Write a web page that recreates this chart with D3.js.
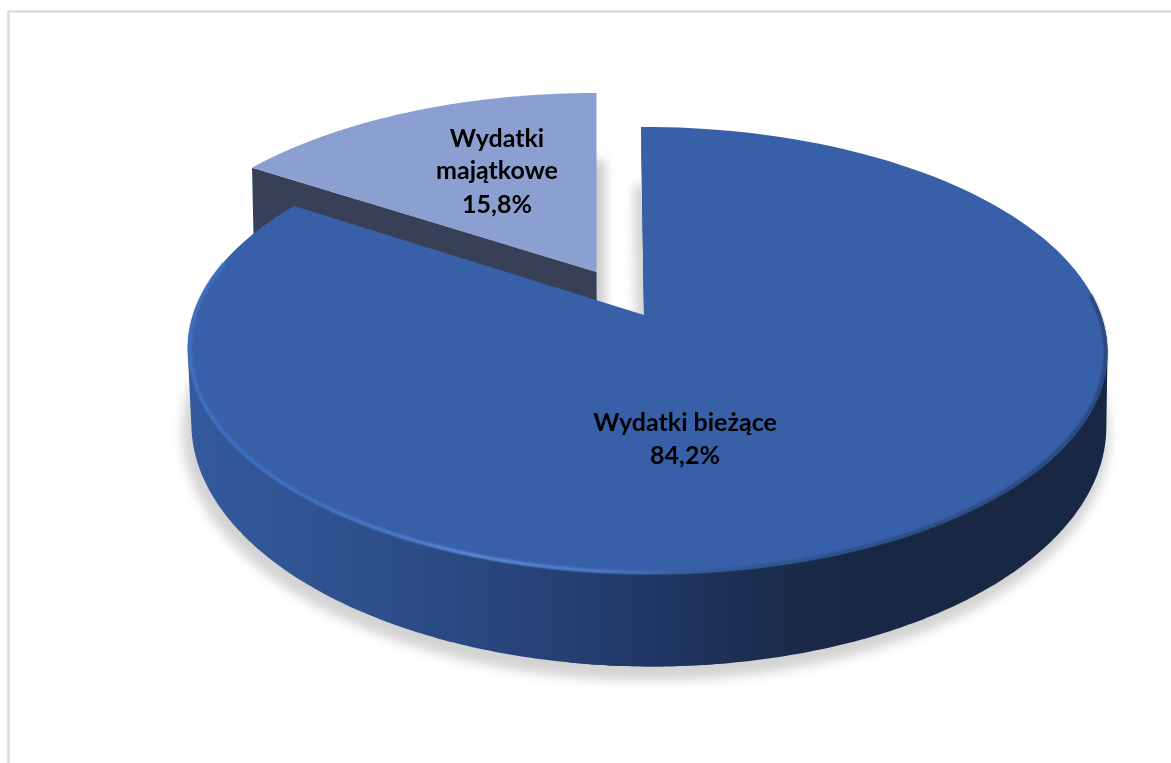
<!DOCTYPE html>
<html><head><meta charset="utf-8">
<script src="https://cdn.jsdelivr.net/npm/d3@7"></script>
<style>html,body{margin:0;padding:0;background:#fff}svg{display:block}</style>
</head><body><div id="c"></div>
<script>
const categories = ["Wydatki bieżące", "Wydatki majątkowe"];
const shares = [84.2, 15.8];
const labelLines = [["Wydatki bieżące"], ["Wydatki", "majątkowe"]];

const W = 1171, H = 763;
const svg = d3.select("#c").append("svg").attr("width", W).attr("height", H);
const defs = svg.append("defs");

function blur(id, s) {
  defs.append("filter").attr("id", id).attr("x", "-20%").attr("y", "-20%").attr("width", "140%").attr("height", "140%")
    .append("feGaussianBlur").attr("stdDeviation", s);
}
blur("bShadow", 5.5); blur("bRim", 1.1); blur("bFace", 0.45); blur("bText", 0.35);

function gradient(id, stops) {
  const g = defs.append("linearGradient").attr("id", id).attr("gradientUnits", "userSpaceOnUse")
    .attr("x1", 187).attr("x2", 1107).attr("y1", 0).attr("y2", 0);
  stops.forEach(([x, c]) => g.append("stop").attr("offset", (x - 187) / 920).attr("stop-color", c));
}
gradient("wall", [[187, "#34599d"], [300, "#305492"], [430, "#2b4b85"], [570, "#253f73"], [680, "#1f3460"], [770, "#1a2b4c"], [850, "#182844"], [1107, "#182844"]]);
gradient("rim", [[187, "#4273c6"], [300, "#4272c4"], [400, "#4f7ecd"], [480, "#6090e0"], [600, "#4f7cc8"], [680, "#38609f"], [770, "#2e5088"], [900, "#2b4a80"], [1107, "#274272"]]);

// perspective projection of a unit-disc point onto the page
function projector(p) {
  const f = a => {
    const u = Math.sin(a), v = Math.cos(a);
    const w = 1 + p.k * v + p.j * u;
    return [p.x + (p.B * u + p.s * v) / w, p.y - p.A * v / w];
  };
  f.apex = [p.x, p.y];
  return f;
}
const bigTop    = projector({x: 644, y: 315, A: 218, B: 454, k: 0.159, j: -0.0066, s: -3.5});
const bigRim    = projector({x: 644, y: 315, A: 216.5, B: 452, k: 0.159, j: -0.0066, s: -3.5});
const bigBottom = projector({x: 645.5, y: 400, A: 239, B: 455, k: 0.103, j: -0.0066, s: -3});
const smallTop  = projector({x: 596.5, y: 272, A: 207.5, B: 447, k: 0.159, j: 0, s: 0});
const smallBot  = projector({x: 597, y: 360, A: 225, B: 433, k: 0.103, j: 0, s: 0});

const pie = d3.pie().sort(null).value(d => d).startAngle(0).endAngle(2 * Math.PI);
const [big, small] = pie(shares);

const line = d3.line();
const sample = (f, a0, a1, n = 160) => d3.range(n + 1).map(i => f(a0 + (a1 - a0) * i / n));
const wedge = (f, arc) => line([f.apex, ...sample(f, arc.startAngle, arc.endAngle)]) + "Z";

// frame
svg.append("path").attr("d", "M8.5,763V11.5H1171").attr("fill", "none").attr("stroke", "#dcdcdc").attr("stroke-width", 2.6);

// soft shadows cast by both slices
svg.append("path").attr("d", wedge(bigBottom, big)).attr("transform", "translate(-3,8)")
  .attr("fill", "#8c8c8c").attr("stroke", "#8c8c8c").attr("stroke-width", 12).attr("opacity", 0.38).attr("filter", "url(#bShadow)");
svg.append("path").attr("d", wedge(smallBot, small)).attr("transform", "translate(8,4)")
  .attr("fill", "#8c8c8c").attr("opacity", 0.45).attr("filter", "url(#bShadow)");

// small slice
svg.append("path").attr("d", line([smallTop(small.startAngle), smallTop.apex, smallBot.apex, smallBot(small.startAngle)]) + "Z").attr("fill", "#374057");
svg.append("path").attr("d", wedge(smallTop, small)).attr("fill", "#8c9fd1");

// big slice: outer wall as hulls of the two rims, right and left of the front
const wallSpans = [[0.47 * Math.PI, 1.05 * Math.PI], [0.95 * Math.PI, 1.58 * Math.PI]];
wallSpans.forEach(([a0, a1]) => {
  const hull = d3.polygonHull([...sample(bigTop, a0, a1), ...sample(bigBottom, a0, a1)]);
  svg.append("path").attr("d", line(hull) + "Z").attr("fill", "url(#wall)");
});
// inner wall sliver along the starting edge
const s0 = bigTop(big.startAngle);
svg.append("path").attr("d", line([s0, [s0[0] + 2.6, s0[1] + 60], [bigTop.apex[0] + 1.6, bigTop.apex[1]], bigTop.apex]) + "Z").attr("fill", "#1c3157");

// top face and bevel
svg.append("path").attr("d", wedge(bigTop, big)).attr("fill", "#3961a9").attr("filter", "url(#bFace)");
svg.append("path").attr("d", line(sample(bigRim, 0.47 * Math.PI, 1.58 * Math.PI)))
  .attr("fill", "none").attr("stroke", "url(#rim)").attr("stroke-width", 3).attr("filter", "url(#bRim)");

// labels
const pct = d => d.toFixed(1).replace(".", ",") + "%";
const text = svg.append("g").attr("font-family", "Lato, 'Noto Sans', sans-serif").attr("font-weight", 700)
  .attr("font-size", 25).attr("fill", "#050505").attr("text-anchor", "middle").attr("filter", "url(#bText)");
const addLabel = (lines, x, ys) => lines.forEach((t, i) => text.append("text").attr("x", x).attr("y", ys[i]).text(t));
addLabel([...labelLines[0], pct(shares[0])], 685, [431, 464]);
addLabel([...labelLines[1], pct(shares[1])], 497, [147, 179, 213]);
</script></body></html>
